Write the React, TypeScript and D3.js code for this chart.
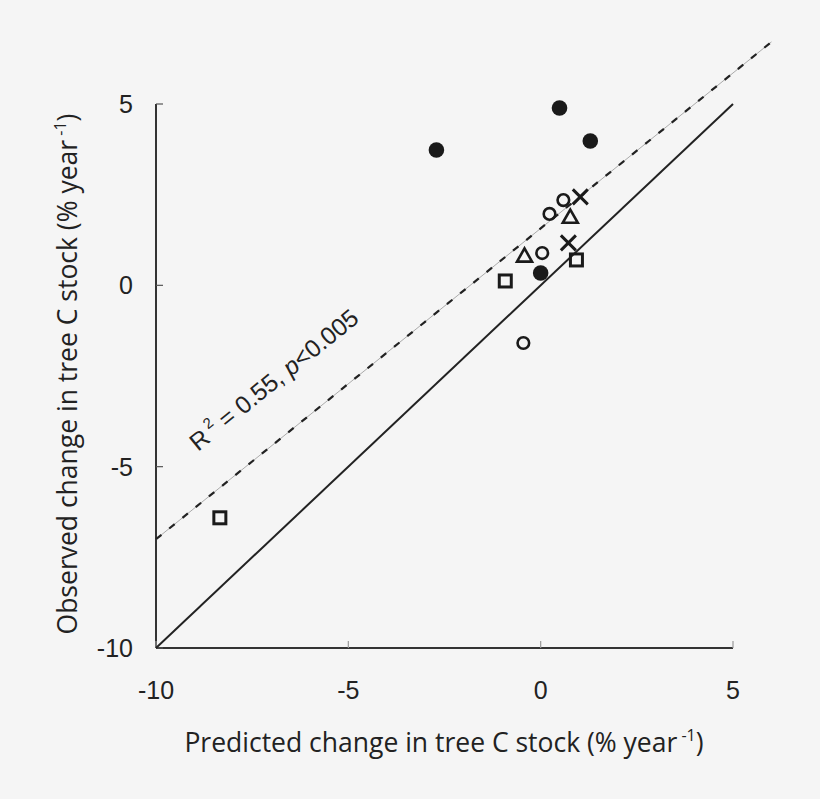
import React from "react";
import * as d3 from "d3";

const xTicks = [-10, -5, 0, 5];
const yTicks = [-10, -5, 0, 5];

const filledCircles: [number, number][] = [
  [0.49, 4.89],
  [1.29, 3.98],
  [-2.71, 3.73],
  [0.0, 0.34],
];
const openCircles: [number, number][] = [
  [0.23, 1.97],
  [0.59, 2.35],
  [0.04, 0.89],
  [-0.45, -1.59],
];
const triangles: [number, number][] = [
  [0.77, 1.88],
  [-0.42, 0.81],
];
const crosses: [number, number][] = [
  [1.03, 2.44],
  [0.72, 1.17],
];
const squares: [number, number][] = [
  [-0.92, 0.12],
  [0.93, 0.7],
  [-8.34, -6.41],
];

const oneToOne: [number, number][] = [
  [-10, -10],
  [5, 5],
];
const regSlope = 0.857;
const regIntercept = 1.57;
const regRange = [-10, 6.0];

const W = 820;
const H = 799;
const left = 156;
const right = 733;
const top = 104;
const bottom = 648;

export default function App() {
  const x = d3.scaleLinear().domain([-10, 5]).range([left, right]);
  const y = d3.scaleLinear().domain([-10, 5]).range([bottom, top]);
  const line = d3
    .line<[number, number]>()
    .x((d) => x(d[0]))
    .y((d) => y(d[1]));
  const regPts: [number, number][] = regRange.map((v) => [v, regSlope * v + regIntercept]);
  const ink = "#222";
  const tri = (cx: number, cy: number) => {
    const s = 7.5;
    return `M${cx},${cy - s}L${cx + s},${cy + s * 0.75}L${cx - s},${cy + s * 0.75}Z`;
  };
  const angle = (-Math.atan((regSlope * (bottom - top)) / (right - left)) * 180) / Math.PI;
  const ax = 198;
  const ay = 452;
  return (
    <svg
      width={W}
      height={H}
      style={{ position: "fixed", left: 0, top: 0, background: "#f5f5f5" }}
    >
      <rect width={W} height={H} fill="#f5f5f5" />
      {/* axes */}
      <line x1={left} x2={left} y1={top} y2={bottom} stroke="#333" strokeWidth={2} />
      <line x1={left} x2={right} y1={bottom} y2={bottom} stroke="#333" strokeWidth={2} />
      {yTicks.map((t) => (
        <g key={"y" + t}>
          <line x1={left} x2={left + 7} y1={y(t)} y2={y(t)} stroke="#555" strokeWidth={1.2} />
          <text
            x={133}
            y={y(t)}
            dy="0.36em"
            textAnchor="end"
            fontFamily="Liberation Sans, Arial, sans-serif"
            fontSize={25}
            fill={ink}
          >
            {t}
          </text>
        </g>
      ))}
      {xTicks.map((t) => (
        <g key={"x" + t}>
          <line x1={x(t)} x2={x(t)} y1={bottom} y2={bottom - 7} stroke="#999" strokeWidth={1.2} />
          <text
            x={x(t)}
            y={699}
            textAnchor="middle"
            fontFamily="Liberation Sans, Arial, sans-serif"
            fontSize={25}
            fill={ink}
          >
            {t}
          </text>
        </g>
      ))}
      {/* 1:1 line */}
      <path d={line(oneToOne) || ""} stroke="#222" strokeWidth={2} fill="none" />
      {/* regression line */}
      <path d={line(regPts) || ""} stroke="#aaa" strokeWidth={1} fill="none" />
      <path
        d={line(regPts) || ""}
        stroke="#222"
        strokeWidth={2.2}
        strokeDasharray="7 10"
        fill="none"
      />
      <text
        transform={`translate(${ax},${ay}) rotate(${angle})`}
        fontFamily="Liberation Sans, Arial, sans-serif"
        fontSize={24.5}
        fill={ink}
      >
        R
        <tspan dy={-11} fontSize={15}>
          {" 2"}
        </tspan>
        <tspan dy={11}> = 0.55, </tspan>
        <tspan fontStyle="italic">p</tspan>
        <tspan>&lt;0.005</tspan>
      </text>
      {/* points */}
      {filledCircles.map((d, i) => (
        <circle key={"fc" + i} cx={x(d[0])} cy={y(d[1])} r={7.8} fill="#1a1a1a" />
      ))}
      {openCircles.map((d, i) => (
        <circle
          key={"oc" + i}
          cx={x(d[0])}
          cy={y(d[1])}
          r={5.8}
          fill="none"
          stroke="#1a1a1a"
          strokeWidth={2.6}
        />
      ))}
      {triangles.map((d, i) => (
        <path
          key={"tr" + i}
          d={tri(x(d[0]), y(d[1]))}
          fill="none"
          stroke="#1a1a1a"
          strokeWidth={2.6}
          strokeLinejoin="miter"
        />
      ))}
      {crosses.map((d, i) => {
        const cx = x(d[0]);
        const cy = y(d[1]);
        const s = 7.5;
        return (
          <path
            key={"cr" + i}
            d={`M${cx - s},${cy - s}L${cx + s},${cy + s}M${cx - s},${cy + s}L${cx + s},${cy - s}`}
            stroke="#1a1a1a"
            strokeWidth={3}
          />
        );
      })}
      {squares.map((d, i) => (
        <rect
          key={"sq" + i}
          x={x(d[0]) - 6}
          y={y(d[1]) - 6}
          width={12}
          height={12}
          fill="none"
          stroke="#1a1a1a"
          strokeWidth={3}
        />
      ))}
      {/* axis titles */}
      <text
        x={444}
        y={752}
        textAnchor="middle"
        fontFamily="Open Sans, Noto Sans, sans-serif"
        fontSize={26.5}
        fill={ink}
      >
        Predicted change in tree C stock (% year
        <tspan dy={-11} fontSize={16}>
          {" -1"}
        </tspan>
        <tspan dy={11}>)</tspan>
      </text>
      <text
        transform={`translate(77,374) rotate(-90)`}
        textAnchor="middle"
        fontFamily="Open Sans, Noto Sans, sans-serif"
        fontSize={26.5}
        fill={ink}
      >
        Observed change in tree C stock (% year
        <tspan dy={-11} fontSize={16}>
          {" -1"}
        </tspan>
        <tspan dy={11}>)</tspan>
      </text>
    </svg>
  );
}
